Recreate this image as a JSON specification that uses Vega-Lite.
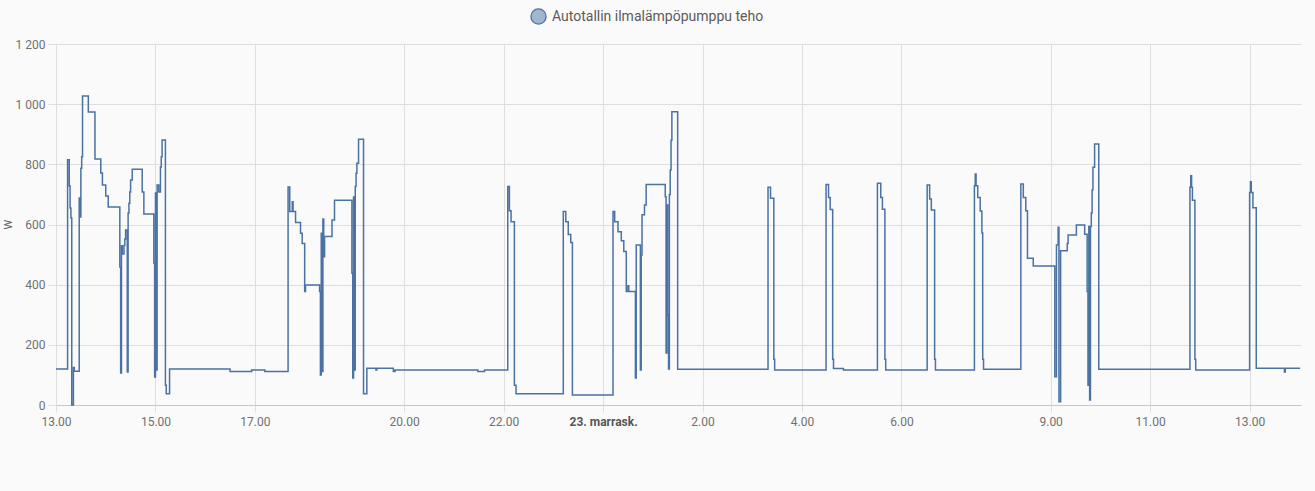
{
  "$schema": "https://vega.github.io/schema/vega-lite/v6.json",
  "width": 1245,
  "height": 361,
  "autosize": {"type": "none"},
  "padding": {"left": 56, "top": 44, "right": 14, "bottom": 86},
  "background": "#fafafa",
  "config": {"font": "Roboto", "view": {"stroke": null}},
  "data": {"values": [
    {"t": "2023-11-22T13:00", "w": 120},
    {"t": "2023-11-22T13:14", "w": 815},
    {"t": "2023-11-22T13:16", "w": 728},
    {"t": "2023-11-22T13:17", "w": 655},
    {"t": "2023-11-22T13:18", "w": 622},
    {"t": "2023-11-22T13:19", "w": 0},
    {"t": "2023-11-22T13:21", "w": 125},
    {"t": "2023-11-22T13:22", "w": 112},
    {"t": "2023-11-22T13:28", "w": 688},
    {"t": "2023-11-22T13:29", "w": 625},
    {"t": "2023-11-22T13:30", "w": 787},
    {"t": "2023-11-22T13:31", "w": 825},
    {"t": "2023-11-22T13:32", "w": 1027},
    {"t": "2023-11-22T13:39", "w": 974},
    {"t": "2023-11-22T13:47", "w": 818},
    {"t": "2023-11-22T13:54", "w": 771},
    {"t": "2023-11-22T13:56", "w": 731},
    {"t": "2023-11-22T14:00", "w": 695},
    {"t": "2023-11-22T14:03", "w": 658},
    {"t": "2023-11-22T14:17", "w": 459},
    {"t": "2023-11-22T14:18", "w": 106},
    {"t": "2023-11-22T14:19", "w": 529},
    {"t": "2023-11-22T14:20", "w": 502},
    {"t": "2023-11-22T14:22", "w": 530},
    {"t": "2023-11-22T14:23", "w": 552},
    {"t": "2023-11-22T14:24", "w": 582},
    {"t": "2023-11-22T14:26", "w": 110},
    {"t": "2023-11-22T14:27", "w": 638},
    {"t": "2023-11-22T14:28", "w": 671},
    {"t": "2023-11-22T14:29", "w": 708},
    {"t": "2023-11-22T14:30", "w": 748},
    {"t": "2023-11-22T14:32", "w": 784},
    {"t": "2023-11-22T14:44", "w": 708},
    {"t": "2023-11-22T14:46", "w": 635},
    {"t": "2023-11-22T14:58", "w": 472},
    {"t": "2023-11-22T14:59", "w": 93},
    {"t": "2023-11-22T15:00", "w": 705},
    {"t": "2023-11-22T15:01", "w": 116},
    {"t": "2023-11-22T15:02", "w": 731},
    {"t": "2023-11-22T15:04", "w": 708},
    {"t": "2023-11-22T15:06", "w": 791},
    {"t": "2023-11-22T15:07", "w": 825},
    {"t": "2023-11-22T15:08", "w": 881},
    {"t": "2023-11-22T15:12", "w": 66},
    {"t": "2023-11-22T15:13", "w": 37},
    {"t": "2023-11-22T15:17", "w": 120},
    {"t": "2023-11-22T16:30", "w": 111},
    {"t": "2023-11-22T16:56", "w": 116},
    {"t": "2023-11-22T17:12", "w": 111},
    {"t": "2023-11-22T17:40", "w": 725},
    {"t": "2023-11-22T17:42", "w": 643},
    {"t": "2023-11-22T17:45", "w": 676},
    {"t": "2023-11-22T17:46", "w": 643},
    {"t": "2023-11-22T17:49", "w": 607},
    {"t": "2023-11-22T17:55", "w": 571},
    {"t": "2023-11-22T17:57", "w": 537},
    {"t": "2023-11-22T18:00", "w": 377},
    {"t": "2023-11-22T18:01", "w": 399},
    {"t": "2023-11-22T18:18", "w": 377},
    {"t": "2023-11-22T18:19", "w": 100},
    {"t": "2023-11-22T18:20", "w": 571},
    {"t": "2023-11-22T18:21", "w": 111},
    {"t": "2023-11-22T18:22", "w": 618},
    {"t": "2023-11-22T18:23", "w": 493},
    {"t": "2023-11-22T18:24", "w": 560},
    {"t": "2023-11-22T18:33", "w": 615},
    {"t": "2023-11-22T18:36", "w": 681},
    {"t": "2023-11-22T18:57", "w": 438},
    {"t": "2023-11-22T18:58", "w": 90},
    {"t": "2023-11-22T18:59", "w": 691},
    {"t": "2023-11-22T19:00", "w": 116},
    {"t": "2023-11-22T19:01", "w": 726},
    {"t": "2023-11-22T19:02", "w": 770},
    {"t": "2023-11-22T19:03", "w": 804},
    {"t": "2023-11-22T19:05", "w": 883},
    {"t": "2023-11-22T19:11", "w": 37},
    {"t": "2023-11-22T19:15", "w": 122},
    {"t": "2023-11-22T19:26", "w": 116},
    {"t": "2023-11-22T19:27", "w": 122},
    {"t": "2023-11-22T19:47", "w": 111},
    {"t": "2023-11-22T19:49", "w": 116},
    {"t": "2023-11-22T21:29", "w": 111},
    {"t": "2023-11-22T21:37", "w": 116},
    {"t": "2023-11-22T22:05", "w": 726},
    {"t": "2023-11-22T22:07", "w": 646},
    {"t": "2023-11-22T22:09", "w": 609},
    {"t": "2023-11-22T22:13", "w": 66},
    {"t": "2023-11-22T22:15", "w": 37},
    {"t": "2023-11-22T23:12", "w": 643},
    {"t": "2023-11-22T23:15", "w": 609},
    {"t": "2023-11-22T23:18", "w": 567},
    {"t": "2023-11-22T23:21", "w": 540},
    {"t": "2023-11-22T23:23", "w": 33},
    {"t": "2023-11-23T00:12", "w": 643},
    {"t": "2023-11-23T00:14", "w": 609},
    {"t": "2023-11-23T00:18", "w": 576},
    {"t": "2023-11-23T00:22", "w": 546},
    {"t": "2023-11-23T00:25", "w": 510},
    {"t": "2023-11-23T00:28", "w": 377},
    {"t": "2023-11-23T00:30", "w": 396},
    {"t": "2023-11-23T00:31", "w": 377},
    {"t": "2023-11-23T00:39", "w": 90},
    {"t": "2023-11-23T00:40", "w": 532},
    {"t": "2023-11-23T00:45", "w": 116},
    {"t": "2023-11-23T00:46", "w": 499},
    {"t": "2023-11-23T00:47", "w": 632},
    {"t": "2023-11-23T00:50", "w": 665},
    {"t": "2023-11-23T00:52", "w": 733},
    {"t": "2023-11-23T01:15", "w": 692},
    {"t": "2023-11-23T01:16", "w": 173},
    {"t": "2023-11-23T01:17", "w": 665},
    {"t": "2023-11-23T01:18", "w": 300},
    {"t": "2023-11-23T01:19", "w": 120},
    {"t": "2023-11-23T01:20", "w": 700},
    {"t": "2023-11-23T01:21", "w": 781},
    {"t": "2023-11-23T01:22", "w": 880},
    {"t": "2023-11-23T01:23", "w": 975},
    {"t": "2023-11-23T01:30", "w": 119},
    {"t": "2023-11-23T03:19", "w": 724},
    {"t": "2023-11-23T03:22", "w": 687},
    {"t": "2023-11-23T03:26", "w": 152},
    {"t": "2023-11-23T03:27", "w": 116},
    {"t": "2023-11-23T04:29", "w": 733},
    {"t": "2023-11-23T04:32", "w": 690},
    {"t": "2023-11-23T04:34", "w": 650},
    {"t": "2023-11-23T04:37", "w": 152},
    {"t": "2023-11-23T04:38", "w": 121},
    {"t": "2023-11-23T04:50", "w": 116},
    {"t": "2023-11-23T05:31", "w": 737},
    {"t": "2023-11-23T05:35", "w": 690},
    {"t": "2023-11-23T05:37", "w": 651},
    {"t": "2023-11-23T05:40", "w": 152},
    {"t": "2023-11-23T05:41", "w": 116},
    {"t": "2023-11-23T06:31", "w": 731},
    {"t": "2023-11-23T06:34", "w": 685},
    {"t": "2023-11-23T06:36", "w": 648},
    {"t": "2023-11-23T06:40", "w": 152},
    {"t": "2023-11-23T06:41", "w": 116},
    {"t": "2023-11-23T07:28", "w": 729},
    {"t": "2023-11-23T07:29", "w": 768},
    {"t": "2023-11-23T07:30", "w": 729},
    {"t": "2023-11-23T07:32", "w": 690},
    {"t": "2023-11-23T07:35", "w": 645},
    {"t": "2023-11-23T07:37", "w": 572},
    {"t": "2023-11-23T07:38", "w": 152},
    {"t": "2023-11-23T07:39", "w": 119},
    {"t": "2023-11-23T08:24", "w": 735},
    {"t": "2023-11-23T08:27", "w": 690},
    {"t": "2023-11-23T08:30", "w": 646},
    {"t": "2023-11-23T08:32", "w": 488},
    {"t": "2023-11-23T08:39", "w": 462},
    {"t": "2023-11-23T09:05", "w": 94},
    {"t": "2023-11-23T09:07", "w": 532},
    {"t": "2023-11-23T09:09", "w": 591},
    {"t": "2023-11-23T09:10", "w": 11},
    {"t": "2023-11-23T09:12", "w": 513},
    {"t": "2023-11-23T09:20", "w": 537},
    {"t": "2023-11-23T09:21", "w": 565},
    {"t": "2023-11-23T09:31", "w": 598},
    {"t": "2023-11-23T09:41", "w": 568},
    {"t": "2023-11-23T09:44", "w": 377},
    {"t": "2023-11-23T09:45", "w": 66},
    {"t": "2023-11-23T09:46", "w": 593},
    {"t": "2023-11-23T09:47", "w": 17},
    {"t": "2023-11-23T09:48", "w": 593},
    {"t": "2023-11-23T09:49", "w": 638},
    {"t": "2023-11-23T09:50", "w": 715},
    {"t": "2023-11-23T09:51", "w": 790},
    {"t": "2023-11-23T09:53", "w": 868},
    {"t": "2023-11-23T09:58", "w": 119},
    {"t": "2023-11-23T11:48", "w": 724},
    {"t": "2023-11-23T11:49", "w": 762},
    {"t": "2023-11-23T11:50", "w": 724},
    {"t": "2023-11-23T11:51", "w": 681},
    {"t": "2023-11-23T11:54", "w": 152},
    {"t": "2023-11-23T11:55", "w": 116},
    {"t": "2023-11-23T13:00", "w": 706},
    {"t": "2023-11-23T13:01", "w": 742},
    {"t": "2023-11-23T13:02", "w": 706},
    {"t": "2023-11-23T13:04", "w": 656},
    {"t": "2023-11-23T13:08", "w": 122},
    {"t": "2023-11-23T13:42", "w": 110},
    {"t": "2023-11-23T13:43", "w": 122},
    {"t": "2023-11-23T14:01", "w": 122}
  ]},
  "mark": {"type": "line", "interpolate": "step-after", "strokeWidth": 1.5},
  "encoding": {
    "x": {
      "field": "t",
      "type": "temporal",
      "scale": {"domain": [
        {"year": 2023, "month": 11, "date": 22, "hours": 13},
        {"year": 2023, "month": 11, "date": 23, "hours": 14, "minutes": 2}
      ]},
      "axis": {
        "title": null,
        "values": [
          {"year": 2023, "month": 11, "date": 22, "hours": 13},
          {"year": 2023, "month": 11, "date": 22, "hours": 15},
          {"year": 2023, "month": 11, "date": 22, "hours": 17},
          {"year": 2023, "month": 11, "date": 22, "hours": 20},
          {"year": 2023, "month": 11, "date": 22, "hours": 22},
          {"year": 2023, "month": 11, "date": 23, "hours": 0},
          {"year": 2023, "month": 11, "date": 23, "hours": 2},
          {"year": 2023, "month": 11, "date": 23, "hours": 4},
          {"year": 2023, "month": 11, "date": 23, "hours": 6},
          {"year": 2023, "month": 11, "date": 23, "hours": 9},
          {"year": 2023, "month": 11, "date": 23, "hours": 11},
          {"year": 2023, "month": 11, "date": 23, "hours": 13}
        ],
        "labelExpr": "hours(datum.value) == 0 ? '23. marrask.' : timeFormat(datum.value, '%-H.%M')",
        "labelFontWeight": {"condition": {"test": "hours(datum.value) == 0", "value": "bold"}, "value": "normal"},
        "labelColor": {"condition": {"test": "hours(datum.value) == 0", "value": "#555555"}, "value": "#707070"},
        "labelFontSize": 12,
        "labelPadding": 4,
        "labelFlush": false,
        "labelOverlap": false,
        "grid": true,
        "gridColor": "#dedede",
        "tickColor": "#dedede",
        "tickSize": 7,
        "domainColor": "#c8c8c8"
      }
    },
    "y": {
      "field": "w",
      "type": "quantitative",
      "scale": {"domain": [0, 1200]},
      "axis": {
        "values": [0, 200, 400, 600, 800, 1000, 1200],
        "labelExpr": "replace(format(datum.value, ','), ',', ' ')",
        "labelFontSize": 12,
        "labelColor": "#707070",
        "labelPadding": 3,
        "tickSize": 8,
        "tickColor": "#dedede",
        "gridColor": "#dedede",
        "domainColor": "#dedede",
        "title": "W",
        "titleFontSize": 11,
        "titleFontWeight": "normal",
        "titleColor": "#555555",
        "titleX": -43,
        "titleY": 180,
        "titleAngle": -90
      }
    },
    "color": {
      "datum": "Autotallin ilmalämpöpumppu teho",
      "type": "nominal",
      "scale": {"range": ["#4a72a3"]},
      "legend": {
        "orient": "none",
        "legendX": 474,
        "legendY": -36,
        "title": null,
        "symbolType": "circle",
        "symbolSize": 230,
        "symbolFillColor": "#a3b6cf",
        "symbolStrokeColor": "#4a72a3",
        "symbolStrokeWidth": 1.3,
        "symbolOpacity": 1,
        "labelFontSize": 14,
        "labelColor": "#5a5a5a",
        "labelOffset": 5,
        "labelLimit": 0
      }
    }
  }
}
